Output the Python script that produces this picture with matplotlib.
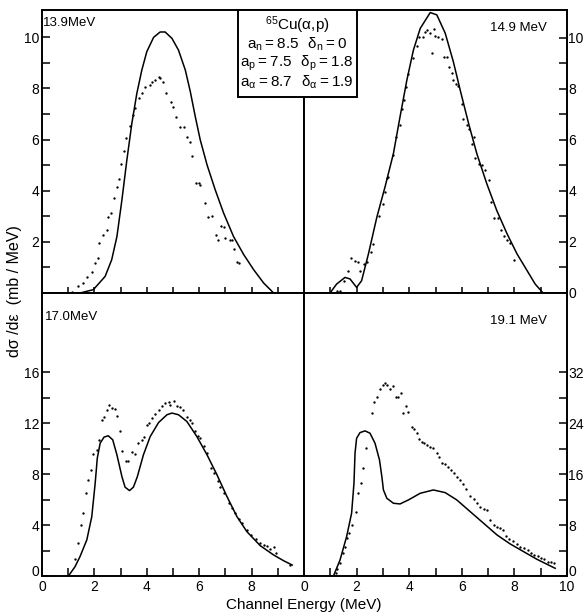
import matplotlib
matplotlib.use("Agg")
import matplotlib.pyplot as plt
from matplotlib.patches import Rectangle

plt.rcParams['font.family'] = ['Liberation Sans', 'DejaVu Sans']
plt.rcParams['mathtext.default'] = 'regular'

# ---- data (x: channel energy MeV, y: dsigma/de mb/MeV) ----
# 13.9 MeV
tl_curve_x = [1.45, 1.96, 2.41, 2.66, 2.86, 3.05, 3.24, 3.43, 3.62, 3.81, 4.00, 4.26, 4.51,
              4.70, 4.96, 5.21, 5.47, 5.66, 5.85, 6.04, 6.30, 6.61, 6.93, 7.31, 7.70, 8.08,
              8.46, 8.84]
tl_curve_y = [0.0, 0.13, 0.65, 1.30, 2.21, 3.64, 5.21, 6.64, 7.81, 8.72, 9.44, 10.0, 10.21,
              10.21, 9.96, 9.5, 8.72, 7.88, 6.9, 5.99, 5.01, 4.04, 3.13, 2.21, 1.50, 0.91,
              0.39, 0.0]
tl_dots_x = [1.13, 1.39, 1.58, 1.73, 1.90, 2.03, 2.15, 2.19, 2.34, 2.47, 2.53, 2.63, 2.73,
             2.86, 2.92, 3.02, 3.13, 3.21, 3.34, 3.47, 3.56, 3.72, 3.81, 3.94, 4.13, 4.19,
             4.32, 4.45, 4.51, 4.61, 4.74, 4.92, 5.00, 5.12, 5.28, 5.43, 5.53, 5.66, 5.72,
             5.89, 5.99, 6.04, 6.23, 6.32, 6.49, 6.65, 6.70, 6.83, 6.93, 7.00, 7.16, 7.25,
             7.34, 7.44, 7.52]
tl_dots_y = [0.05, 0.26, 0.41, 0.62, 0.84, 1.17, 1.37, 1.95, 2.28, 2.47, 2.99, 3.13, 3.71,
             4.16, 4.46, 5.05, 5.57, 6.05, 6.54, 6.96, 7.23, 7.62, 7.81, 8.05, 8.14, 8.27,
             8.33, 8.44, 8.40, 8.27, 7.84, 7.48, 7.29, 6.87, 6.51, 6.51, 6.12, 5.92, 5.34,
             4.32, 4.30, 4.23, 3.54, 2.99, 3.00, 2.28, 2.06, 2.63, 2.60, 2.15, 2.09, 2.09,
             1.72, 1.23, 1.17]

# 14.9 MeV
tr_curve_x = [0.99, 1.24, 1.56, 1.75, 2.00, 2.19, 2.45, 2.77, 3.08, 3.40, 3.65, 3.91, 4.16,
              4.42, 4.80, 5.05, 5.37, 5.68, 5.94, 6.26, 6.57, 6.95, 7.33, 7.72, 8.10, 8.48,
              8.79, 9.09]
tr_curve_y = [0.0, 0.35, 0.61, 0.55, 0.22, 0.48, 1.53, 2.97, 4.15, 5.46, 6.89, 8.33, 9.51,
              10.36, 10.98, 10.89, 10.17, 9.05, 7.94, 6.63, 5.46, 4.28, 3.23, 2.32, 1.53,
              0.88, 0.35, 0.0]
tr_dots_x = [1.24, 1.37, 1.52, 1.69, 1.78, 1.94, 2.07, 2.13, 2.28, 2.41, 2.54, 2.64, 2.87,
             3.00, 3.08, 3.17, 3.21, 3.40, 3.50, 3.65, 3.72, 3.82, 3.88, 3.97, 4.14, 4.29,
             4.39, 4.52, 4.61, 4.69, 4.80, 4.86, 4.95, 4.99, 5.11, 5.24, 5.33, 5.43, 5.53,
             5.62, 5.68, 5.79, 5.87, 6.00, 6.06, 6.19, 6.29, 6.38, 6.48, 6.51, 6.64, 6.76,
             6.89, 7.02, 7.11, 7.21, 7.36, 7.49, 7.59, 7.72, 7.84, 7.99]
tr_dots_y = [0.07, 0.08, 0.48, 0.85, 1.37, 1.27, 1.23, 0.88, 1.14, 1.20, 1.59, 1.92, 3.00,
             3.49, 3.95, 4.51, 4.53, 5.39, 6.09, 6.57, 7.22, 7.55, 8.05, 8.57, 9.19, 9.67,
             10.01, 10.01, 10.23, 10.30, 10.17, 9.41, 10.33, 10.07, 10.04, 9.94, 9.25, 9.25,
             8.86, 8.62, 8.33, 8.20, 8.10, 7.39, 6.83, 6.57, 6.44, 5.82, 6.09, 5.30, 5.06,
             5.00, 4.80, 4.41, 3.56, 2.94, 2.94, 2.45, 2.25, 2.08, 1.95, 1.30]

# 17.0 MeV
bl_curve_x = [1.01, 1.26, 1.45, 1.71, 1.90, 2.03, 2.11, 2.22, 2.37, 2.53, 2.70, 2.86, 3.05,
              3.17, 3.34, 3.49, 3.64, 3.87, 4.13, 4.45, 4.77, 4.96, 5.21, 5.53, 5.91, 6.30,
              6.68, 7.06, 7.44, 7.82, 8.33, 8.84, 9.22, 9.55]
bl_curve_y = [0.0, 0.73, 1.52, 2.83, 4.66, 7.28, 9.24, 10.42, 10.9, 11.0, 10.68, 9.5, 7.8,
              6.97, 6.70, 6.97, 7.8, 9.5, 10.94, 12.04, 12.65, 12.78, 12.65, 12.12, 10.94,
              9.5, 7.93, 6.23, 4.66, 3.48, 2.38, 1.65, 1.20, 0.86]
bl_dots_x = [1.26, 1.36, 1.48, 1.58, 1.68, 1.77, 1.86, 1.96, 2.09, 2.19, 2.28, 2.37, 2.47,
             2.56, 2.66, 2.79, 2.88, 2.98, 3.07, 3.21, 3.30, 3.43, 3.56, 3.68, 3.81, 3.90,
             4.00, 4.10, 4.20, 4.32, 4.45, 4.58, 4.70, 4.83, 4.89, 5.02, 5.15, 5.28, 5.40,
             5.53, 5.63, 5.72, 5.85, 5.94, 6.04, 6.17, 6.30, 6.45, 6.57, 6.70, 6.80, 6.96,
             7.12, 7.25, 7.38, 7.50, 7.63, 7.82, 7.98, 8.15, 8.31, 8.46, 8.59, 8.72, 8.84,
             8.94, 9.45]
bl_dots_y = [1.31, 2.62, 4.01, 4.97, 6.49, 7.54, 8.33, 9.56, 9.90, 10.68, 12.2, 12.51, 13.04,
             13.43, 13.17, 13.12, 12.57, 11.34, 9.84, 9.06, 9.06, 9.69, 9.58, 10.42, 10.68,
             10.94, 11.86, 12.04, 12.38, 12.73, 13.04, 13.35, 13.56, 13.62, 13.43, 13.69,
             13.35, 13.25, 13.04, 12.51, 12.25, 12.0, 11.34, 11.0, 10.81, 10.16, 9.64, 8.46,
             8.07, 7.49, 7.02, 6.55, 5.71, 5.32, 4.93, 4.46, 4.14, 3.62, 3.22, 2.88, 2.57,
             2.44, 2.36, 2.10, 2.25, 1.78, 0.9]

# 19.1 MeV
br_curve_x = [1.12, 1.37, 1.62, 1.81, 1.90, 1.94, 2.00, 2.13, 2.32, 2.51, 2.70, 2.87, 2.96,
              3.02, 3.15, 3.40, 3.65, 3.97, 4.42, 4.92, 5.37, 5.81, 6.32, 6.83, 7.34, 7.84,
              8.35, 8.86, 9.55]
br_curve_y = [0.0, 2.52, 6.19, 9.87, 14.59, 19.31, 21.66, 22.55, 22.82, 22.45, 20.88, 18.26,
              15.63, 13.53, 12.22, 11.44, 11.33, 11.96, 13.01, 13.53, 13.11, 11.96, 10.12,
              8.29, 6.45, 5.04, 3.83, 2.62, 1.21]
br_dots_x = [1.22, 1.27, 1.37, 1.47, 1.56, 1.65, 1.73, 1.81, 1.98, 2.07, 2.17, 2.26, 2.35,
             2.58, 2.66, 2.77, 2.89, 2.99, 3.08, 3.17, 3.27, 3.40, 3.50, 3.59, 3.68, 3.78,
             3.88, 3.97, 4.10, 4.19, 4.29, 4.39, 4.48, 4.58, 4.69, 4.80, 4.92, 5.05, 5.15,
             5.24, 5.37, 5.49, 5.59, 5.71, 5.81, 5.94, 6.04, 6.17, 6.32, 6.45, 6.57, 6.70,
             6.83, 6.95, 7.08, 7.23, 7.33, 7.46, 7.56, 7.69, 7.81, 7.94, 8.09, 8.22, 8.35,
             8.50, 8.63, 8.75, 8.88, 9.01, 9.14, 9.26, 9.39, 9.52]
br_dots_y = [0.42, 1.05, 2.0, 3.57, 4.62, 5.93, 6.72, 8.03, 10.12, 13.01, 14.69, 16.95,
             20.10, 25.70, 27.43, 28.22, 29.38, 30.06, 30.33, 30.06, 29.38, 29.8, 28.12,
             28.22, 28.75, 25.6, 26.75, 25.86, 23.5, 23.09, 22.46, 21.51, 21.14, 20.98,
             20.62, 20.25, 20.15, 19.31, 18.78, 17.74, 17.63, 17.2, 16.68, 16.16, 15.63,
             15.11, 14.48, 13.64, 12.59, 12.07, 11.44, 10.81, 10.5, 10.39, 8.81, 8.03, 7.66,
             7.5, 7.24, 6.30, 5.77, 5.56, 5.04, 4.62, 4.35, 4.09, 3.57, 3.31, 3.15, 2.78,
             2.62, 2.26, 2.26, 2.0]

energies = ["13.9MeV", "14.9 MeV", "17.0MeV", "19.1 MeV"]

# ---- layout (pixel frame of the original) ----
W, H = 587, 616
fig = plt.figure(figsize=(W / 100, H / 100), dpi=100)


def px_axes(x0, y0, x1, y1):
    return fig.add_axes([x0 / W, 1 - y1 / H, (x1 - x0) / W, (y1 - y0) / H])


ax_tl = px_axes(42, 10, 304, 293)
ax_tr = px_axes(304, 10, 567, 293)
ax_bl = px_axes(42, 293, 304, 576)
ax_br = px_axes(304, 293, 567, 576)

panels = [
    (ax_tl, tl_curve_x, tl_curve_y, tl_dots_x, tl_dots_y, 11.07),
    (ax_tr, tr_curve_x, tr_curve_y, tr_dots_x, tr_dots_y, 11.08),
    (ax_bl, bl_curve_x, bl_curve_y, bl_dots_x, bl_dots_y, 22.2),
    (ax_br, br_curve_x, br_curve_y, br_dots_x, br_dots_y, 44.5),
]

for ax, cx, cy, dx, dy, ytop in panels:
    ax.plot(cx, cy, color='black', lw=1.1, solid_joinstyle='round')
    ax.plot(dx, dy, 'o', color='black', ms=1.7, mew=0)
    ax.set_xlim(0, 10)
    ax.set_ylim(0, ytop)
    for s in ax.spines.values():
        s.set_linewidth(1.4)
    ax.set_xticks(range(0, 11))
    ax.tick_params(width=1.1, labelsize=10, colors='black')

# top panels: x ticks cross the middle line, no x labels
for ax in (ax_tl, ax_tr):
    ax.tick_params(axis='x', direction='inout', length=8, labelbottom=False)

# bottom panels: x ticks inward with labels
ax_bl.tick_params(axis='x', direction='in', length=5.5, pad=3)
ax_bl.set_xticklabels(['0', '', '2', '', '4', '', '6', '', '8', '', ''])
ax_br.tick_params(axis='x', direction='in', length=5.5, pad=3)
ax_br.set_xticklabels(['0', '', '2', '', '4', '', '6', '', '8', '', '10'])

# left panels: y ticks on the left
ax_tl.set_yticks(range(0, 11))
ax_tl.set_yticklabels(['', '', '2', '', '4', '', '6', '', '8', '', '10'])
ax_bl.set_yticks(range(0, 17, 2))
ax_bl.set_yticklabels(['0', '', '4', '', '8', '', '12', '', '16'])
for ax in (ax_tl, ax_bl):
    ax.tick_params(axis='y', direction='in', length=5.8, pad=2)

# right panels: y ticks on the right
ax_tr.set_yticks(range(0, 11))
ax_tr.set_yticklabels(['0', '', '2', '', '4', '', '6', '', '8', '', '10'])
ax_br.set_yticks(range(0, 33, 4))
ax_br.set_yticklabels(['0', '', '8', '', '16', '', '24', '', '32'])
for ax in (ax_tr, ax_br):
    ax.yaxis.tick_right()
    ax.tick_params(axis='y', direction='in', length=5.8, pad=1)

# the bottom "0" labels sit a little above the corner, as in the original
ax_bl.get_yticklabels()[0].set_va('baseline')
ax_br.get_yticklabels()[0].set_va('baseline')

# energy labels
ax_tl.text(0.005, 0.955, energies[0], transform=ax_tl.transAxes, fontsize=9.5,
           ha='left', va='center')
ax_tr.text(0.925, 0.935, energies[1], transform=ax_tr.transAxes, fontsize=9.5,
           ha='right', va='center')
ax_bl.text(0.01, 0.915, energies[2], transform=ax_bl.transAxes, fontsize=9.5,
           ha='left', va='center')
ax_br.text(0.925, 0.90, energies[3], transform=ax_br.transAxes, fontsize=9.5,
           ha='right', va='center')

# parameter box across the top middle
box = Rectangle((238 / W, 1 - 97 / H), (357 - 238) / W, (97 - 10) / H,
                transform=fig.transFigure, facecolor='white', edgecolor='black',
                lw=1.4, zorder=5)
fig.patches.append(box)
box_lines = [r"$^{65}$Cu(α,p)",
             r"$a_n = 8.5\ \ \delta_n = 0$",
             r"$a_p = 7.5\ \ \delta_p = 1.8$",
             r"$a_\alpha = 8.7\ \ \delta_\alpha = 1.9$"]
box_y = [25, 44, 63, 82]
for line, yy in zip(box_lines, box_y):
    fig.text(297 / W, 1 - yy / H, line, fontsize=11, ha='center', va='center', zorder=6)

# axis titles
fig.text(304 / W, 1 - 605 / H, "Channel Energy (MeV)", fontsize=11,
         ha='center', va='center')
fig.text(15 / W, 1 - 291 / H, "dσ /dε  (mb / MeV)", fontsize=11.5,
         ha='center', va='center', rotation=90)

fig.savefig("out.png", dpi=100)
